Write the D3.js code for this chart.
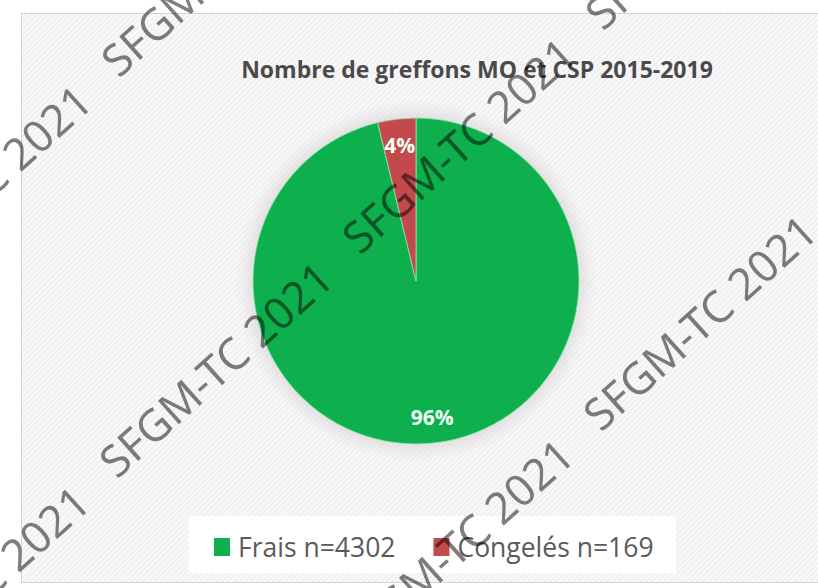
<!DOCTYPE html>
<html>
<head>
<meta charset="utf-8">
<script src="https://cdn.jsdelivr.net/npm/d3@7"></script>
<style>
    body { margin: 0; background: #fff; }
    svg { display: block; }
</style>
</head>
<body>
<div id="chart"></div>
<script>
// data
const categories = ["Frais", "Congelés"];
const counts = [4302, 169];
const percentLabels = ["96%", "4%"];
const colors = ["#0db04c", "#c4494c"];
const chartTitle = "Nombre de greffons MO et CSP 2015-2019";
const watermark = "SFGM-TC 2021";

class Piechart {
    constructor(_config, _data) {
        this.config = {
            parentElement: _config.parentElement,
            containerWidth: _config.containerWidth,
            containerHeight: _config.containerHeight,
            center: _config.center || { x: 416, y: 281 },
            radius: _config.radius || 163
        }
        this.data = _data;
        this.initVis();
    }

    initVis() {
        let vis = this;

        vis.svg = d3.select(vis.config.parentElement).append("svg")
            .attr("width", vis.config.containerWidth)
            .attr("height", vis.config.containerHeight);

        let defs = vis.svg.append("defs");

        // light hatched fill of the chart area
        let pattern = defs.append("pattern")
            .attr("id", "hatch")
            .attr("width", 4)
            .attr("height", 4)
            .attr("patternUnits", "userSpaceOnUse")
            .attr("patternTransform", "rotate(45)");
        pattern.append("rect")
            .attr("width", 4).attr("height", 4)
            .attr("fill", "#f8f8f8");
        pattern.append("rect")
            .attr("width", 1).attr("height", 4)
            .attr("fill", "#ebebeb");

        defs.append("filter")
            .attr("id", "glow")
            .attr("x", "-30%").attr("y", "-30%")
            .attr("width", "160%").attr("height", "160%")
            .append("feGaussianBlur")
            .attr("stdDeviation", 7);

        // chart area box
        vis.svg.append("rect")
            .attr("x", 21.5)
            .attr("y", 13.5)
            .attr("width", 900)
            .attr("height", 569)
            .attr("fill", "url(#hatch)")
            .attr("stroke", "#d4d4d4");

        // Title text
        vis.svg.append("text")
            .attr("x", 477)
            .attr("y", 78)
            .attr("text-anchor", "middle")
            .style("font-family", "'Open Sans', sans-serif")
            .style("font-size", "23px")
            .style("font-weight", "bold")
            .style("fill", "#4a4a4a")
            .text(chartTitle);

        vis.chart = vis.svg.append("g")
            .attr("transform", `translate(${vis.config.center.x},${vis.config.center.y})`);

        // soft halo behind the pie
        vis.chart.append("circle")
            .attr("r", vis.config.radius + 8)
            .attr("fill", "#dcd6d8")
            .attr("opacity", 0.7)
            .attr("filter", "url(#glow)");

        vis.legend = vis.svg.append("g")
            .attr("class", "legend");

        vis.marks = vis.svg.append("g")
            .attr("class", "watermarks");
    }

    updateVis() {
        let vis = this;

        vis.pie = d3.pie()
            .sort(null)
            .value(d => d.count);

        vis.arc = d3.arc()
            .innerRadius(0)
            .outerRadius(vis.config.radius);

        vis.labelArc = d3.arc()
            .innerRadius(vis.config.radius * 0.84)
            .outerRadius(vis.config.radius * 0.84);

        vis.renderVis();
    }

    renderVis() {
        let vis = this;
        let slices = vis.pie(vis.data);

        vis.chart.selectAll(".slice")
            .data(slices)
            .enter().append("path")
            .attr("class", "slice")
            .attr("d", vis.arc)
            .attr("fill", d => d.data.color)
            .attr("stroke", "#8fe6b0")
            .attr("stroke-width", 0.8);

        vis.chart.selectAll(".pct")
            .data(slices)
            .enter().append("text")
            .attr("class", "pct")
            .attr("transform", d => `translate(${vis.labelArc.centroid(d)})`)
            .attr("text-anchor", "middle")
            .attr("dy", "0.36em")
            .style("font-family", "'Open Sans', sans-serif")
            .style("font-size", "21px")
            .style("font-weight", "bold")
            .style("fill", "#f4fff6")
            .text(d => d.data.pct);

        // Legend: white box with two items
        vis.legend.append("rect")
            .attr("x", 189)
            .attr("y", 516)
            .attr("width", 487)
            .attr("height", 57)
            .attr("fill", "#ffffff");

        let item = vis.legend.selectAll(".item")
            .data(vis.data)
            .enter().append("g")
            .attr("class", "item");

        item.append("rect")
            .attr("width", 16)
            .attr("height", 18)
            .attr("y", 538)
            .attr("fill", d => d.color);

        item.append("text")
            .attr("x", 24)
            .attr("y", 557)
            .style("font-family", "'Open Sans', sans-serif")
            .style("font-size", "26.5px")
            .style("fill", "#5a5a5a")
            .text(d => `${d.category} n=${d.count}`);

        let x = 214;
        item.each(function () {
            let g = d3.select(this);
            g.attr("transform", `translate(${x},0)`);
            x += 24 + g.select("text").node().getComputedTextLength() + 38;
        });

        // watermark grid, only the copies that reach into the picture
        let origin = { x: 360, y: 256 };
        let v1 = { x: 243, y: -224 };
        let v2 = { x: 241, y: 177 };
        let spots = [];
        for (let i = -2; i <= 2; i++) {
            for (let j = -2; j <= 2; j++) {
                let p = { x: origin.x + i * v1.x + j * v2.x, y: origin.y + i * v1.y + j * v2.y };
                if (p.x + 250 > 0 && p.x < 818 && p.y + 10 > 0 && p.y - 240 < 588) spots.push(p);
            }
        }

        vis.marks.selectAll("text")
            .data(spots)
            .enter().append("text")
            .attr("transform", d => `translate(${d.x},${d.y}) rotate(-42)`)
            .style("font-family", "'Noto Sans', sans-serif")
            .style("font-size", "44px")
            .style("fill", "#000")
            .style("opacity", 0.5)
            .text(watermark);
    }
}

let pieData = categories.map((c, i) => ({
    category: c,
    count: counts[i],
    pct: percentLabels[i],
    color: colors[i]
}));

let pieChart = new Piechart({
    parentElement: "#chart",
    containerWidth: 818,
    containerHeight: 588
}, pieData);
pieChart.updateVis();
</script>
</body>
</html>
